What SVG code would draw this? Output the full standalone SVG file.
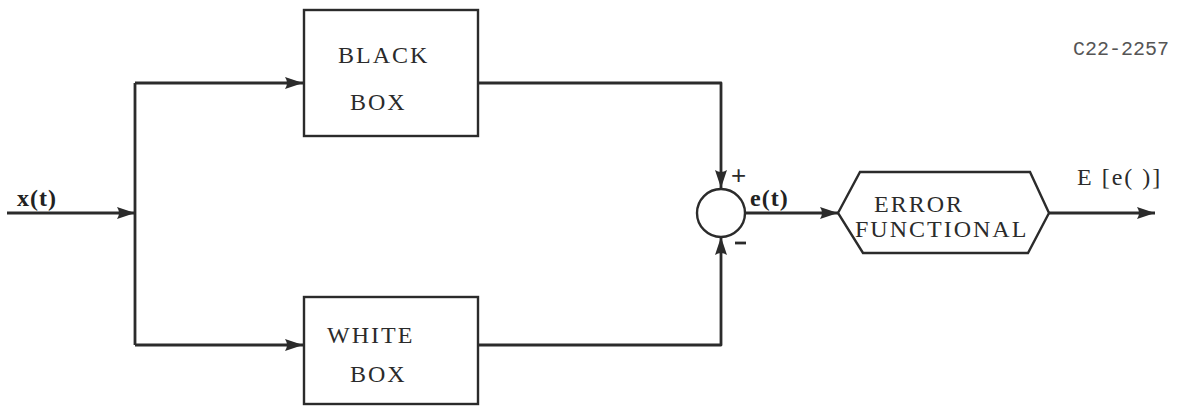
<svg xmlns="http://www.w3.org/2000/svg" width="1185" height="406" viewBox="0 0 1185 406">
  <style>
    .ln { fill: none; stroke: #2b2b2b; stroke-width: 2.8; stroke-linejoin: round; }
    .box { fill: #ffffff; stroke: #2b2b2b; stroke-width: 2.4; }
    .lbl { font-family: "Liberation Serif", "Times New Roman", serif; font-size: 24px; fill: #2b2b2b; letter-spacing: 2px; }
    .sig { font-family: "Liberation Serif", "Times New Roman", serif; font-size: 24px; font-weight: bold; fill: #222222; letter-spacing: 1px; }
    .tag { font-family: "Liberation Mono", "Courier New", monospace; font-size: 20px; fill: #555555; }
  </style>
  <defs>
    <marker id="arrow" markerWidth="18" markerHeight="12" refX="18" refY="6" orient="auto" markerUnits="userSpaceOnUse">
      <path d="M0,0 L18,6 L0,12 Q4,6 0,0 Z" fill="#2b2b2b"/>
    </marker>
  </defs>
  <rect width="1185" height="406" fill="#ffffff"/>

  <g id="connectors">
    <!-- input x(t) to the branch point -->
    <line class="ln" x1="7" y1="213" x2="135" y2="213" marker-end="url(#arrow)"/>
    <!-- branch bus -->
    <line class="ln" x1="135" y1="83" x2="135" y2="345"/>
    <line class="ln" x1="135" y1="83" x2="303" y2="83" marker-end="url(#arrow)"/>
    <line class="ln" x1="135" y1="345" x2="303" y2="345" marker-end="url(#arrow)"/>
    <!-- box outputs to the summing junction -->
    <polyline class="ln" points="478,83 721,83 721,188" marker-end="url(#arrow)"/>
    <polyline class="ln" points="478,345 721,345 721,237" marker-end="url(#arrow)"/>
    <!-- e(t) to the error functional -->
    <line class="ln" x1="745" y1="213" x2="838" y2="213" marker-end="url(#arrow)"/>
    <!-- output -->
    <line class="ln" x1="1049" y1="213" x2="1155" y2="213" marker-end="url(#arrow)"/>
  </g>

  <g id="black-box">
    <rect class="box" x="304" y="10" width="174" height="126"/>
    <text class="lbl" x="338" y="63">BLACK</text>
    <text class="lbl" x="350" y="110">BOX</text>
  </g>

  <g id="white-box">
    <rect class="box" x="304" y="297" width="174" height="107"/>
    <text class="lbl" x="327" y="343">WHITE</text>
    <text class="lbl" x="350" y="382">BOX</text>
  </g>

  <g id="summing-junction">
    <circle class="box" cx="721" cy="213" r="24"/>
    <text x="731" y="184" font-family="Liberation Sans, Arial, sans-serif" font-size="26" fill="#2b2b2b">+</text>
    <line class="ln" x1="735" y1="243" x2="746" y2="243"/>
  </g>

  <g id="error-functional">
    <polygon class="box" points="838,213 860,172 1030,172 1049,213 1028,253 863,253"/>
    <text class="lbl" x="874" y="212">ERROR</text>
    <text class="lbl" x="855" y="237">FUNCTIONAL</text>
  </g>

  <g id="labels">
    <text class="sig" x="17" y="206">x(t)</text>
    <text class="sig" x="750" y="206">e(t)</text>
    <text class="lbl" x="1077" y="185" letter-spacing="1.5">E [e( )]</text>
    <text class="tag" x="1073" y="55">C22-2257</text>
  </g>
</svg>
